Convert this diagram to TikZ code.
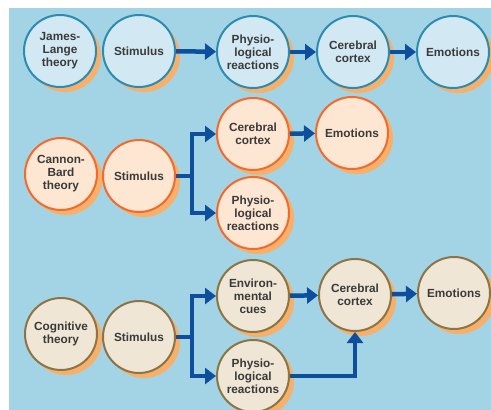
\documentclass[tikz,border=0pt]{standalone}
\usepackage{fontspec}
\setmainfont{Liberation Sans}
\usetikzlibrary{arrows.meta,shadows}
\definecolor{bg}{HTML}{A3D4E6}
\definecolor{shad}{HTML}{F7B06A}
\definecolor{bfill}{HTML}{D2E9F3}
\definecolor{bline}{HTML}{2C8BAE}
\definecolor{ofill}{HTML}{FDE6D2}
\definecolor{oline}{HTML}{F26A2C}
\definecolor{cfill}{HTML}{EFE6D6}
\definecolor{cline}{HTML}{8C7444}
\definecolor{arrc}{HTML}{0D4F9C}
\definecolor{txt}{HTML}{3A3A3A}
\tikzset{
  bubble/.style={circle, minimum size=72pt, inner sep=0pt, line width=2pt, align=center,
    text=txt, font=\fontsize{11.8}{13}\selectfont\bfseries,
    drop shadow={shadow xshift=5pt, shadow yshift=-5pt, fill=shad, opacity=1}},
  blueb/.style={bubble, draw=bline, fill=bfill},
  orangeb/.style={bubble, draw=oline, fill=ofill},
  brownb/.style={bubble, draw=cline, fill=cfill},
  arr/.style={draw=arrc, line width=4.5pt, line join=miter, -{Triangle[length=11pt,width=16pt]}},
  link/.style={draw=arrc, line width=4.5pt}
}
\begin{document}
\begin{tikzpicture}[x=1pt,y=-1pt]
\useasboundingbox (0,0) rectangle (491,410);
\fill[bg] (9,8) rectangle (491,410);
% row 1
\node[blueb] (jl) at (60,51) {James-\\Lange\\theory};
\node[blueb] (s1) at (139,51) {Stimulus};
\node[blueb] (p1) at (253,52) {Physio-\\logical\\reactions};
\node[blueb] (c1) at (353,52) {Cerebral\\cortex};
\node[blueb] (e1) at (453,52) {Emotions};
\draw[arr] (s1) -- (p1);
\draw[arr] (p1) -- (c1);
\draw[arr] (c1) -- (e1);
% row 2
\node[orangeb] (cb) at (61,174) {Cannon-\\Bard\\theory};
\node[orangeb] (s2) at (139,176) {Stimulus};
\node[orangeb] (c2) at (253,134) {Cerebral\\cortex};
\node[orangeb] (p2) at (253,213) {Physio-\\logical\\reactions};
\node[orangeb] (e2) at (352,133) {Emotions};
\coordinate (b2) at (192,176);
\draw[link] (s2) -- (b2);
\draw[arr] (b2) |- (c2);
\draw[arr] (b2) |- (p2);
\draw[arr] (c2) -- (e2);
% row 3
\node[brownb] (ct) at (61,334) {Cognitive\\theory};
\node[brownb] (s3) at (139,337) {Stimulus};
\node[brownb] (env) at (253,296) {Environ-\\mental\\cues};
\node[brownb] (p3) at (253,376) {Physio-\\logical\\reactions};
\node[brownb] (c3) at (355,295) {Cerebral\\cortex};
\node[brownb] (e3) at (454,293) {Emotions};
\coordinate (b3) at (192,337);
\draw[link] (s3) -- (b3);
\draw[arr] (b3) |- (env);
\draw[arr] (b3) |- (p3);
\draw[arr] (env) -- (c3);
\draw[arr] (c3) -- (e3);
\draw[arr] (p3) -| (c3);
\end{tikzpicture}
\end{document}
